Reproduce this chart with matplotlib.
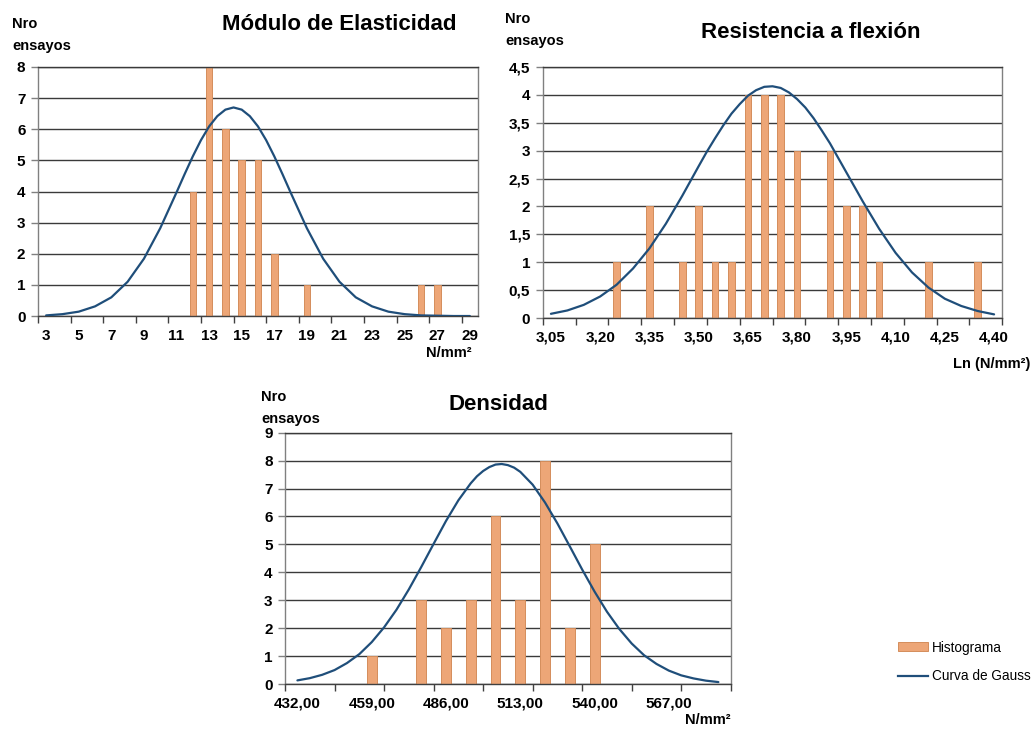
import matplotlib
matplotlib.use("Agg")
import matplotlib.pyplot as plt
from matplotlib.patches import Patch
from matplotlib.lines import Line2D

plt.rcParams['font.family'] = ['Liberation Sans', 'DejaVu Sans']

### data ###

# Modulo de Elasticidad (N/mm2)
mod_x = [12, 13, 14, 15, 16, 17, 19, 26, 27]
mod_n = [4, 8, 6, 5, 5, 2, 1, 1, 1]
mod_labels = ['3', '5', '7', '9', '11', '13', '15', '17', '19', '21', '23', '25', '27', '29']
mod_curve_x = [3, 4, 5, 6, 7, 8, 9, 10, 11, 11.5, 12, 12.5, 13, 13.5, 14, 14.5, 15, 15.5, 16,
               16.5, 17, 17.5, 18, 19, 20, 21, 22, 23, 24, 25, 26, 27, 28, 29]
mod_curve_y = [0.02, 0.06, 0.14, 0.31, 0.60, 1.10, 1.84, 2.82, 3.97, 4.56, 5.13, 5.65, 6.09, 6.42,
               6.63, 6.70, 6.63, 6.42, 6.09, 5.65, 5.13, 4.56, 3.97, 2.82, 1.84, 1.10, 0.60, 0.31,
               0.14, 0.06, 0.02, 0.01, 0.0, 0.0]

# Resistencia a flexion, Ln(N/mm2)
res_x = [3.25, 3.35, 3.45, 3.50, 3.55, 3.60, 3.65, 3.70, 3.75, 3.80, 3.90, 3.95, 4.00, 4.05, 4.20, 4.35]
res_n = [1, 2, 1, 2, 1, 1, 4, 4, 4, 3, 3, 2, 2, 1, 1, 1]
res_labels = ['3,05', '3,20', '3,35', '3,50', '3,65', '3,80', '3,95', '4,10', '4,25', '4,40']
res_curve_x = [3.05, 3.10, 3.15, 3.20, 3.25, 3.30, 3.35, 3.40, 3.45, 3.50, 3.525, 3.55, 3.575,
               3.60, 3.625, 3.65, 3.675, 3.70, 3.725, 3.75, 3.775, 3.80, 3.825, 3.85, 3.875,
               3.90, 3.925, 3.95, 4.00, 4.05, 4.10, 4.15, 4.20, 4.25, 4.30, 4.35, 4.40]
res_curve_y = [0.08, 0.14, 0.24, 0.39, 0.60, 0.89, 1.25, 1.69, 2.19, 2.72, 2.98, 3.22, 3.45,
               3.66, 3.83, 3.98, 4.08, 4.14, 4.15, 4.12, 4.04, 3.92, 3.77, 3.58, 3.36,
               3.13, 2.87, 2.61, 2.09, 1.60, 1.17, 0.82, 0.55, 0.35, 0.22, 0.13, 0.07]

# Densidad
den_x = [459, 477, 486, 495, 504, 513, 522, 531, 540]
den_n = [1, 3, 2, 3, 6, 3, 8, 2, 5]
den_labels = ['432,00', '459,00', '486,00', '513,00', '540,00', '567,00']
den_curve_x = [432, 436.5, 441, 445.5, 450, 454.5, 459, 463.5, 468, 472.5, 477, 481.5, 486, 490.5,
               495, 497.25, 499.5, 501.75, 504, 506.25, 508.5, 510.75, 513, 517.5, 522, 526.5,
               531, 535.5, 540, 544.5, 549, 553.5, 558, 562.5, 567, 571.5, 576, 580.5, 585]
den_curve_y = [0.13, 0.21, 0.33, 0.50, 0.75, 1.07, 1.50, 2.03, 2.66, 3.39, 4.19, 5.02, 5.84, 6.58,
               7.19, 7.44, 7.63, 7.77, 7.86, 7.88, 7.84, 7.75, 7.60, 7.14, 6.50, 5.75,
               4.93, 4.10, 3.31, 2.59, 1.97, 1.45, 1.03, 0.72, 0.48, 0.31, 0.20, 0.12, 0.07]

BAR_FACE = '#EDA677'
BAR_EDGE = '#D48D5C'
CURVE = '#1F4E7A'

### drawing ###

def draw_panel(ax, xs, ns, cx, cy, step, first, last, every, labels, ymax, ystep, ylabels):
    lo, hi = first - step / 2, last + step / 2
    ax.bar(xs, ns, width=step * 0.4, color=BAR_FACE, edgecolor=BAR_EDGE, linewidth=0.7, zorder=2)
    ax.plot(cx, cy, color=CURVE, lw=1.6, zorder=3, solid_capstyle='round', solid_joinstyle='round')
    ax.set_xlim(lo, hi)
    ax.set_ylim(0, ymax)
    # tick marks every 2 categories, labels every `every` categories
    nb = int((hi - lo) / (2 * step) + 1e-6)
    ax.set_xticks([lo + 2 * step * k for k in range(nb + 1)])
    ax.set_xticklabels([])
    ax.set_xticks([first + every * step * k for k in range(len(labels))], minor=True)
    ax.set_xticklabels(labels, minor=True, fontsize=11, fontweight='bold')
    ax.tick_params(axis='x', which='major', length=5, width=1, color='#404040', direction='out')
    ax.tick_params(axis='x', which='minor', length=0, pad=9)
    yt = [ystep * k for k in range(int(round(ymax / ystep)) + 1)]
    ax.set_yticks(yt)
    ax.set_yticklabels(ylabels, fontsize=11, fontweight='bold')
    ax.tick_params(axis='y', length=5, width=1, color='#808080', pad=4)
    ax.grid(axis='y', color='#3a3a3a', lw=1.0, zorder=1)
    ax.set_axisbelow(True)
    ax.spines['left'].set_color('#808080')
    ax.spines['bottom'].set_color('#404040')
    ax.spines['top'].set_color('#3a3a3a')
    ax.spines['right'].set_color('#808080')
    for s in ax.spines.values():
        s.set_linewidth(1.0)


fig = plt.figure(figsize=(10.32, 7.29), dpi=100)

ax1 = fig.add_axes([0.0368, 0.5665, 0.4264, 0.3416])
draw_panel(ax1, mod_x, mod_n, mod_curve_x, mod_curve_y, 1, 3, 29, 2, mod_labels,
           8, 1, [str(v) for v in range(9)])

ax2 = fig.add_axes([0.5259, 0.5634, 0.4453, 0.3451])
draw_panel(ax2, res_x, res_n, res_curve_x, res_curve_y, 0.05, 3.05, 4.40, 3, res_labels,
           4.5, 0.5, ['0', '0,5', '1', '1,5', '2', '2,5', '3', '3,5', '4', '4,5'])

ax3 = fig.add_axes([0.2762, 0.0617, 0.4319, 0.3447])
draw_panel(ax3, den_x, den_n, den_curve_x, den_curve_y, 9, 432, 585, 3, den_labels,
           9, 1, [str(v) for v in range(10)])

def px(x, y):
    return x / 1032, 1 - y / 729

title_kw = dict(fontsize=16, fontweight='bold', ha='center', va='center')
fig.text(*px(339, 25), 'Módulo de Elasticidad', **title_kw)
fig.text(*px(811, 32), 'Resistencia a flexión', **title_kw)
fig.text(*px(498, 405), 'Densidad', **title_kw)

lab_kw = dict(fontsize=10.5, fontweight='bold', ha='left', va='center')
for x0, y0 in [(12, 24), (505, 19), (261, 397)]:
    fig.text(*px(x0, y0), 'Nro', **lab_kw)
    fig.text(*px(x0, y0 + 22), 'ensayos', **lab_kw)

unit_kw = dict(fontsize=10.5, fontweight='bold', ha='right', va='center')
fig.text(*px(472, 353), 'N/mm²', **unit_kw)
fig.text(*px(1030, 364), 'Ln (N/mm²)', **unit_kw)
fig.text(*px(731, 720), 'N/mm²', **unit_kw)

handles = [Patch(facecolor=BAR_FACE, edgecolor=BAR_EDGE, lw=0.7),
           Line2D([], [], color=CURVE, lw=1.6)]
fig.legend(handles, ['Histograma', 'Curva de Gauss'], loc='center left',
           bbox_to_anchor=px(886, 662), frameon=False, fontsize=9.8,
           handlelength=2.2, handleheight=0.6, labelspacing=1.1, handletextpad=0.3)

fig.savefig('out.png', dpi=100)
